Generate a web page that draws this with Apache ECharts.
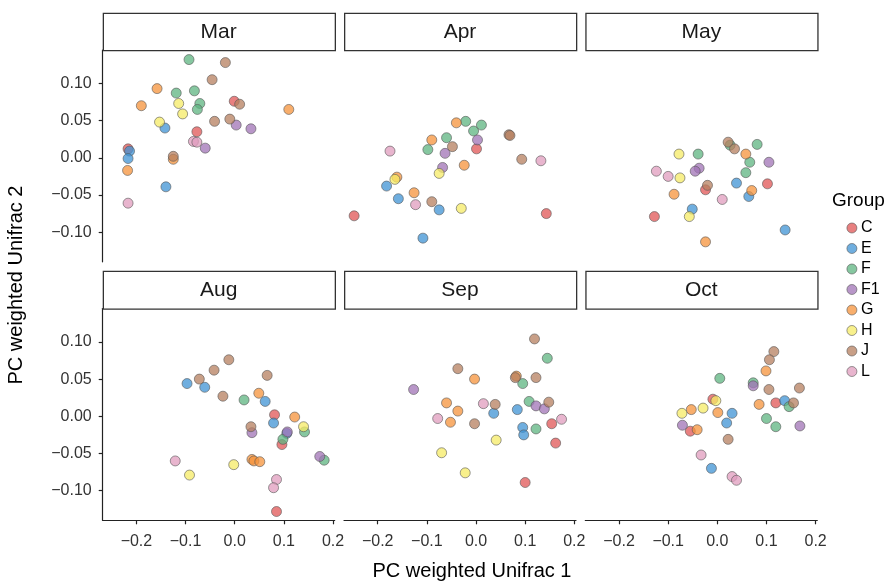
<!DOCTYPE html>
<html>
<head>
<meta charset="utf-8">
<script src="https://cdn.jsdelivr.net/npm/echarts@6/dist/echarts.min.js"></script>
<style>html,body{margin:0;padding:0;background:#fff;}#c{width:890px;height:583px;}</style>
</head>
<body>
<div id="c"></div>
<script>
// ---- data ----
const groups = ['C','E','F','F1','G','H','J','L'];
const months = ['Mar','Apr','May','Aug','Sep','Oct'];
const xTicks = [-0.2,-0.1,0,0.1,0.2];
const yTicks = [-0.10,-0.05,0,0.05,0.10];

const mar = [
  [-0.093,0.132,'F'],[-0.019,0.128,'J'],[-0.046,0.105,'J'],[-0.158,0.093,'G'],[-0.119,0.087,'F'],
  [-0.082,0.090,'F'],[-0.190,0.070,'G'],[-0.114,0.073,'H'],[-0.071,0.073,'F'],[-0.076,0.065,'F'],
  [-0.106,0.059,'H'],[-0.001,0.076,'C'],[0.010,0.072,'J'],[0.110,0.065,'G'],[-0.153,0.048,'H'],
  [-0.142,0.040,'E'],[-0.041,0.049,'J'],[-0.010,0.052,'J'],[0.003,0.044,'F1'],[0.033,0.039,'F1'],
  [-0.077,0.035,'C'],[-0.084,0.022,'L'],[-0.077,0.021,'L'],[-0.060,0.013,'F1'],[-0.214,0.009,'E'],
  [-0.217,0.012,'C'],[-0.217,-0.001,'E'],[-0.125,0.002,'J'],[-0.125,-0.002,'G'],[-0.218,-0.017,'G'],
  [-0.140,-0.039,'E'],[-0.217,-0.061,'L']
];
const apr = [
  [-0.040,0.047,'G'],[-0.021,0.049,'F'],[-0.005,0.036,'F'],[0.011,0.044,'F'],[0.067,0.031,'J'],
  [0.069,0.030,'J'],[0.003,0.024,'F1'],[0.001,0.012,'C'],[-0.090,0.024,'G'],[-0.060,0.027,'F'],
  [-0.098,0.011,'F'],[-0.048,0.015,'J'],[-0.063,0.006,'F1'],[-0.175,0.009,'L'],[0.093,-0.002,'J'],
  [0.132,-0.004,'L'],[-0.024,-0.010,'G'],[-0.068,-0.013,'F1'],[-0.075,-0.021,'H'],[-0.161,-0.026,'G'],
  [-0.165,-0.029,'H'],[-0.182,-0.038,'E'],[-0.126,-0.047,'G'],[-0.158,-0.055,'E'],[-0.123,-0.063,'L'],
  [-0.090,-0.059,'J'],[-0.075,-0.070,'E'],[-0.030,-0.068,'H'],[-0.248,-0.078,'C'],[0.143,-0.075,'C'],
  [-0.108,-0.108,'E']
];
const may = [
  [0.022,0.021,'J'],[0.026,0.017,'F'],[0.035,0.012,'J'],[0.081,0.018,'F'],[0.058,0.005,'G'],
  [-0.078,0.005,'H'],[-0.039,0.005,'F'],[0.066,-0.006,'F'],[0.105,-0.006,'F1'],[-0.037,-0.014,'F1'],
  [-0.045,-0.018,'F1'],[-0.124,-0.018,'L'],[-0.100,-0.025,'L'],[-0.076,-0.027,'H'],[0.058,-0.020,'F'],
  [0.039,-0.034,'E'],[0.102,-0.035,'C'],[-0.024,-0.043,'C'],[-0.020,-0.037,'J'],[0.064,-0.052,'E'],
  [0.070,-0.044,'G'],[0.010,-0.056,'L'],[-0.088,-0.049,'G'],[-0.051,-0.069,'E'],[-0.057,-0.079,'H'],
  [-0.128,-0.079,'C'],[-0.024,-0.113,'G'],[0.138,-0.097,'E']
];
const aug = [
  [-0.012,0.076,'J'],[-0.042,0.062,'J'],[-0.072,0.050,'J'],[-0.097,0.044,'E'],[-0.061,0.039,'E'],
  [0.066,0.055,'J'],[-0.024,0.027,'J'],[0.019,0.022,'F'],[0.049,0.031,'G'],[0.062,0.020,'E'],
  [0.081,0.002,'C'],[0.122,-0.001,'G'],[0.079,-0.009,'E'],[0.140,-0.014,'H'],[0.142,-0.021,'F'],
  [0.033,-0.014,'J'],[0.035,-0.022,'F1'],[0.106,-0.023,'E'],[0.107,-0.021,'F1'],[0.096,-0.038,'C'],
  [0.098,-0.031,'F'],[0.035,-0.058,'G'],[0.039,-0.060,'G'],[0.051,-0.061,'G'],[-0.002,-0.065,'H'],
  [-0.121,-0.060,'L'],[-0.092,-0.079,'H'],[0.173,-0.054,'F1'],[0.182,-0.059,'F'],[0.085,-0.085,'L'],
  [0.079,-0.096,'L'],[0.085,-0.128,'C']
];
const sep = [
  [0.119,0.104,'J'],[0.145,0.078,'F'],[-0.037,0.064,'J'],[-0.003,0.050,'G'],[0.080,0.052,'J'],
  [0.082,0.054,'G'],[0.095,0.044,'F'],[0.122,0.052,'J'],[-0.127,0.036,'F1'],[-0.060,0.018,'G'],
  [0.015,0.017,'L'],[0.039,0.016,'J'],[0.036,0.004,'E'],[-0.037,0.007,'G'],[-0.078,-0.003,'L'],
  [-0.052,-0.008,'G'],[-0.003,-0.010,'J'],[0.084,0.009,'E'],[0.108,0.020,'F'],[0.122,0.014,'F1'],
  [0.139,0.010,'F1'],[0.148,0.019,'J'],[0.174,-0.004,'L'],[0.154,-0.010,'C'],[0.095,-0.015,'E'],
  [0.097,-0.025,'E'],[0.122,-0.017,'F'],[0.162,-0.036,'C'],[0.041,-0.032,'H'],[-0.070,-0.049,'H'],
  [-0.022,-0.076,'H'],[0.100,-0.089,'C']
];
const oct = [
  [0.115,0.087,'J'],[0.106,0.076,'J'],[0.099,0.061,'G'],[0.005,0.051,'F'],[0.073,0.041,'F1'],
  [0.073,0.045,'F'],[0.105,0.036,'J'],[0.167,0.038,'J'],[-0.009,0.023,'C'],[-0.003,0.021,'H'],
  [-0.029,0.011,'H'],[-0.053,0.009,'G'],[-0.072,0.004,'H'],[0.001,0.005,'G'],[0.030,0.004,'E'],
  [0.019,-0.009,'E'],[-0.071,-0.012,'F1'],[-0.055,-0.020,'C'],[-0.041,-0.018,'G'],[0.022,-0.031,'J'],
  [0.085,0.016,'G'],[0.119,0.018,'C'],[0.137,0.021,'E'],[0.155,0.018,'J'],[0.146,0.013,'F'],
  [0.100,-0.003,'F'],[0.119,-0.014,'F'],[0.168,-0.013,'F1'],[-0.033,-0.052,'L'],[-0.012,-0.070,'E'],
  [0.030,-0.081,'L'],[0.039,-0.086,'L']
];
const monthData = [mar, apr, may, aug, sep, oct];

// ---- styling / layout ----
const palette = {C:'#E05655',E:'#3F93D4',F:'#5EB480',F1:'#A073B6',G:'#F6933B',H:'#F6EB66',J:'#B67F5F',L:'#E09CBE'};
const colLeft = [102.7, 344, 585.3];
const rowTop = [50, 308.5];
const pw = 232, ph = 211.8;
const X_MIN = -0.2686, X_MAX = 0.2034, Y_MIN = -0.1398, Y_MAX = 0.1449;
const FONT = 'Liberation Sans, Arial, Helvetica, sans-serif';
const fmt = (v, d) => { const s = Math.abs(v).toFixed(d); return (v < -1e-9 ? '\u2212' : '') + s; };

const grids = [], xAxes = [], yAxes = [], series = [], graphics = [];
months.forEach((m, i) => {
  const r = Math.floor(i / 3), c = i % 3;
  grids.push({left: colLeft[c], top: rowTop[r], width: pw, height: ph, containLabel: false});
  const showX = r === 1, showY = c === 0;
  xAxes.push({
    gridIndex: i, type: 'value', min: X_MIN, max: X_MAX, show: showX,
    axisLine: {show: true, onZero: false, lineStyle: {color: '#222', width: 1.2}},
    axisTick: {show: true, length: 4, customValues: xTicks, lineStyle: {color: '#222', width: 1.2}},
    axisLabel: {show: true, customValues: xTicks, margin: 13, fontFamily: FONT, fontSize: 16, color: '#333',
                formatter: v => fmt(v, 1)},
    splitLine: {show: false}
  });
  yAxes.push({
    gridIndex: i, type: 'value', min: Y_MIN, max: Y_MAX, show: showY,
    axisLine: {show: true, onZero: false, lineStyle: {color: '#222', width: 1.2}},
    axisTick: {show: true, length: 4, customValues: yTicks, lineStyle: {color: '#222', width: 1.2}},
    axisLabel: {show: true, customValues: yTicks, margin: 11, fontFamily: FONT, fontSize: 16, color: '#333',
                formatter: v => fmt(v, 2)},
    splitLine: {show: false}
  });
  groups.forEach(g => {
    series.push({
      type: 'scatter', name: g, xAxisIndex: i, yAxisIndex: i,
      symbol: 'circle', symbolSize: 10,
      data: monthData[i].filter(p => p[2] === g).map(p => [p[0], p[1]]),
      itemStyle: {color: palette[g], opacity: 0.75, borderColor: '#555', borderWidth: 0.8},
      emphasis: {disabled: true},
      animation: false
    });
  });
  // facet strip
  const stripTop = r === 0 ? 12.7 : 270.7;
  graphics.push({
    type: 'rect', left: colLeft[c], top: stripTop,
    shape: {width: pw, height: rowTop[r] - stripTop},
    style: {fill: '#fff', stroke: '#333', lineWidth: 1.3}, z: 10
  });
  graphics.push({
    type: 'text', x: colLeft[c] + pw / 2, y: (stripTop + rowTop[r]) / 2 + 1,
    style: {text: m, fill: '#1a1a1a', font: '21px ' + FONT, textAlign: 'center', textVerticalAlign: 'middle'}, z: 11
  });
});

graphics.push({
  type: 'text', x: 472, y: 571,
  style: {text: 'PC weighted Unifrac 1', fill: '#000', font: '20px ' + FONT, textAlign: 'center', textVerticalAlign: 'middle'}
});
graphics.push({
  type: 'text', x: 16, y: 285, rotation: Math.PI / 2,
  style: {text: 'PC weighted Unifrac 2', fill: '#000', font: '20px ' + FONT, textAlign: 'center', textVerticalAlign: 'middle'}
});
graphics.push({
  type: 'text', x: 832, y: 201,
  style: {text: 'Group', fill: '#000', font: '19px ' + FONT, textAlign: 'left', textVerticalAlign: 'middle'}
});

const chart = echarts.init(document.getElementById('c'), null, {renderer: 'canvas', width: 890, height: 583});
chart.setOption({
  animation: false,
  backgroundColor: '#fff',
  grid: grids, xAxis: xAxes, yAxis: yAxes, series: series,
  legend: {
    data: groups, orient: 'vertical', left: 841.5, top: 215, icon: 'circle',
    itemWidth: 10, itemHeight: 10, itemGap: 4.5,
    itemStyle: {opacity: 0.75, borderWidth: 0.8, borderColor: '#555'},
    textStyle: {fontFamily: FONT, fontSize: 16, color: '#000', lineHeight: 16, padding: [0, 0, 0, -1]},
    selectedMode: false
  },
  graphic: graphics
});
</script>
</body>
</html>
